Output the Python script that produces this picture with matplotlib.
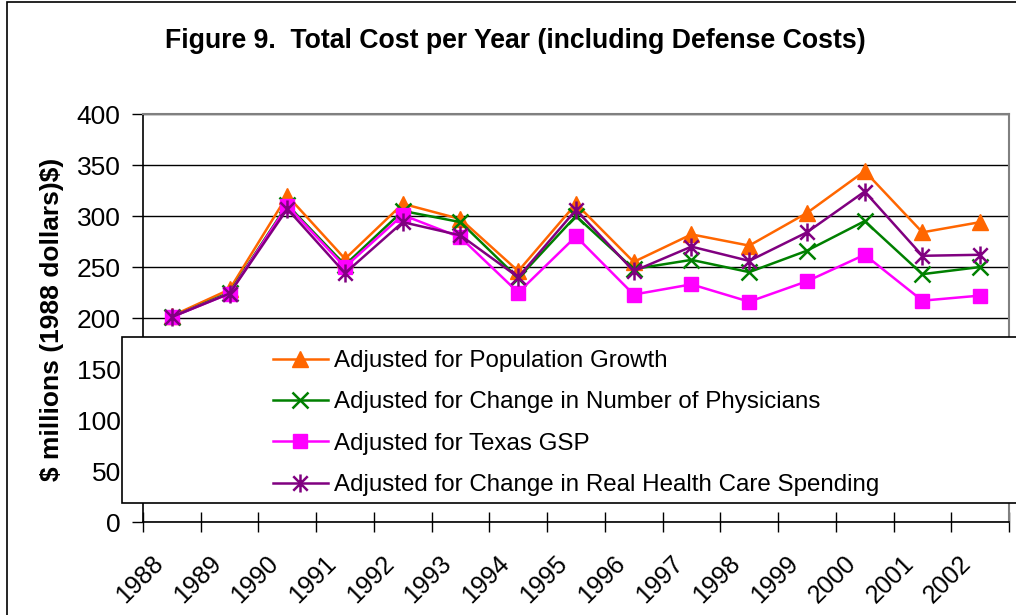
import matplotlib
matplotlib.use("Agg")
import matplotlib.pyplot as plt
from matplotlib.patches import Rectangle
from matplotlib.path import Path
from matplotlib.transforms import ScaledTranslation

plt.rcParams['font.family'] = ['Liberation Sans', 'DejaVu Sans']

# data
years = ['1988', '1989', '1990', '1991', '1992', '1993', '1994', '1995',
         '1996', '1997', '1998', '1999', '2000', '2001', '2002']
population = [202, 228, 320, 258, 312, 297, 246, 312, 255, 282, 271, 303, 344, 284, 294]
physicians = [201, 225, 311, 252, 305, 294, 239, 300, 248, 257, 245, 266, 295, 243, 250]
texas_gsp = [201, 224, 310, 250, 301, 279, 225, 280, 223, 233, 216, 236, 262, 217, 222]
health_spending = [201, 224, 307, 244, 294, 281, 240, 306, 246, 270, 256, 284, 324, 261, 262]

series_names = ['Adjusted for Population Growth',
                'Adjusted for Change in Number of Physicians',
                'Adjusted for Texas GSP',
                'Adjusted for Change in Real Health Care Spending']

# excel style asterisk: vertical bar plus an X
star = Path([(0, -1), (0, 1), (-0.8, -0.8), (0.8, 0.8), (-0.8, 0.8), (0.8, -0.8)],
            [Path.MOVETO, Path.LINETO] * 3)

fig = plt.figure(figsize=(10.16, 6.15), dpi=100)
ax = fig.add_axes([0.1407, 0.1512, 0.8524, 0.6634])

x = list(range(len(years)))
ax.plot(x, population, color='#FF6600', lw=1.8, marker='^', ms=11, label=series_names[0])
ax.plot(x, physicians, color='#008000', lw=1.8, marker='x', ms=11, mew=1.8, label=series_names[1])
ax.plot(x, texas_gsp, color='#FF00FF', lw=1.8, marker='s', ms=10, label=series_names[2])
ax.plot(x, health_spending, color='#800080', lw=1.8, marker=star, ms=13, mew=1.8, label=series_names[3])

ax.set_xlim(-0.5, len(years) - 0.5)
ax.set_ylim(0, 400)
ax.set_yticks(range(0, 401, 50))
ax.yaxis.grid(True, color='black', lw=1)
ax.set_axisbelow(True)
ax.tick_params(axis='y', labelsize=19, direction='out', length=8, width=1, pad=8)

# category boundaries get the tick marks, labels sit under centres
ax.set_xticks([i - 0.5 for i in range(len(years) + 1)])
ax.set_xticklabels([])
ax.tick_params(axis='x', direction='inout', length=15, width=1)
for i, yr in enumerate(years):
    t = ax.text(i, 0, yr, fontsize=18, rotation=45, ha='right', va='top',
                rotation_mode='anchor', transform=ax.get_xaxis_transform())
    t.set_transform(ax.get_xaxis_transform() + ScaledTranslation(-0.21, -0.29, fig.dpi_scale_trans))

for side in ['top', 'right']:
    ax.spines[side].set_color('#808080')
    ax.spines[side].set_linewidth(1.5)
ax.spines['left'].set_linewidth(1.2)
ax.spines['bottom'].set_linewidth(1.2)

fig.text(0.507, 0.934, 'Figure 9.  Total Cost per Year (including Defense Costs)',
         ha='center', va='center', fontsize=19.2, fontweight='bold')
fig.text(0.051, 0.48, '\\$ millions (1988 dollars)\\$)', rotation=90, ha='center', va='center',
         fontsize=19, fontweight='bold')

# outer chart border
fig.patches.append(Rectangle((0.0069, -0.1), 1.2, 1.0967, transform=fig.transFigure,
                             fill=False, edgecolor='black', lw=1.2))

# legend box overlapping the lower part of the plot
fig.patches.append(Rectangle((0.1201, 0.1821), 1.0, 0.2699, transform=fig.transFigure,
                             facecolor='white', edgecolor='black', lw=1.2, zorder=5))
leg = fig.legend(loc='upper left', bbox_to_anchor=(0.247, 0.466), frameon=False,
                 fontsize=17.4, handlelength=2.3, labelspacing=0.8, handletextpad=0.25)
leg.set_zorder(6)

fig.savefig('out.png', dpi=100)
